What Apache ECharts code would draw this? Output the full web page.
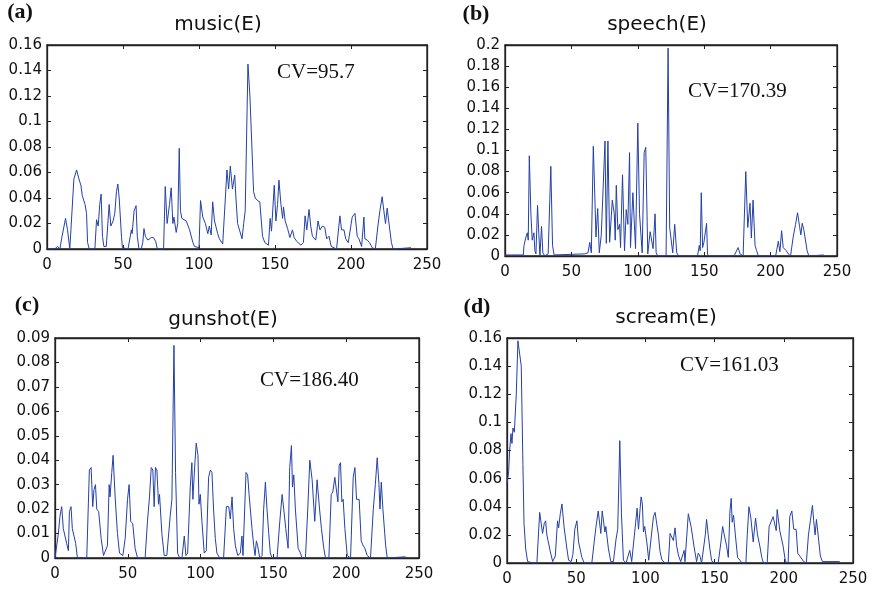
<!DOCTYPE html>
<html>
<head>
<meta charset="utf-8">
<script src="https://cdn.jsdelivr.net/npm/echarts@6/dist/echarts.min.js"></script>
<style>html,body{margin:0;padding:0;background:#fff}#c{width:880px;height:592px}</style>
</head>
<body>
<div id="c"></div>
<script>
// ---- data (frame index, energy) ----
const panelTitles = ['music(E)', 'speech(E)', 'gunshot(E)', 'scream(E)'];
const panelLetters = ['(a)', '(b)', '(c)', '(d)'];
const cvLabels = ['CV=95.7', 'CV=170.39', 'CV=186.40', 'CV=161.03'];
const xTicks = [0, 50, 100, 150, 200, 250];
const yMax = [0.16, 0.2, 0.09, 0.16];
const yStep = [0.02, 0.02, 0.01, 0.02];

const music = [[0,0],[5,0],[7,0.002],[8.5,0],[9.6,0.008],[10.7,0.008],[12.2,0.024],[13.5,0.015],[15,0],[16,0],[17.7,0.055],[19.5,0.062],[21,0.055],[22.3,0.05],[23.2,0.042],[25,0.035],[26,0.028],[26.7,0.005],[27.8,0],[31.5,0],[32.6,0.023],[33.7,0.018],[34.7,0.035],[35.6,0.043],[36.5,0.01],[37.4,0.002],[39,0.002],[40.9,0.035],[42,0.018],[43.5,0.022],[44.6,0.028],[45.7,0.045],[46.6,0.051],[47.5,0.04],[49,0.01],[49.6,0.001],[53.3,0],[55.5,0.015],[56,0.012],[57.3,0.03],[58.6,0.034],[59.4,0.01],[60.5,0],[62,0],[63,0.005],[63.8,0.016],[64.7,0.01],[66.4,0.007],[68.6,0.009],[70,0.009],[71.5,0.006],[72.6,0],[76.7,0],[77.8,0.049],[79,0.02],[80.6,0.035],[81.7,0.048],[82.8,0.02],[83.5,0.025],[85,0.013],[86,0.02],[87,0.079],[87.8,0.03],[88.7,0.024],[91.6,0.022],[93.8,0.015],[96,0.005],[97,0.002],[100,0.001],[101,0.038],[102.5,0.025],[104.2,0.02],[105.8,0.012],[106.8,0.018],[108,0.011],[109,0.037],[110.2,0.022],[112.3,0.012],[113.4,0.008],[115.6,0.004],[116.7,0.005],[118.4,0.062],[119.5,0.047],[120.6,0.065],[122,0.047],[123.5,0.058],[124.3,0.04],[125.4,0.02],[126.5,0.02],[128.3,0.008],[129.4,0.02],[130.4,0.03],[132.2,0.145],[133.5,0.12],[134.8,0.08],[135.9,0.045],[137,0.04],[138.5,0.038],[140,0.037],[141.8,0.01],[143.3,0.005],[145.7,0.003],[146.8,0.024],[147.7,0.014],[149.5,0.05],[150.6,0.022],[151.7,0.035],[152.6,0.054],[153.9,0.035],[155,0.024],[155.6,0.033],[156.7,0.022],[158.3,0.016],[159.8,0.009],[161.5,0.015],[162.6,0.009],[164.3,0.006],[165.4,0.007],[167,0.003],[168.7,0.005],[169.8,0.026],[170.9,0.015],[172.4,0.031],[173.5,0.018],[174.6,0.01],[176.8,0.007],[178.3,0.022],[179.6,0.015],[181.2,0.018],[182.7,0.017],[184,0.008],[185.5,0.01],[187,0.002],[190.5,0],[192.7,0.026],[193.8,0.015],[195.4,0.015],[196.5,0.008],[198.2,0.005],[199,0.004],[200.8,0.025],[202.6,0.028],[204.1,0.01],[205.2,0.008],[207,0.002],[208.5,0.025],[209.1,0.008],[210.7,0.007],[212.2,0.005],[214,0.001],[216,0],[217.7,0.018],[219,0.03],[220.5,0.041],[221.6,0.03],[222.7,0.02],[223.8,0.032],[224.8,0.022],[226.6,0.005],[227.7,0],[239.5,0.001]];

const speech = [[0,0.001],[5,0.001],[13.8,0.001],[14.3,0.01],[15.8,0.018],[16.8,0.022],[17.5,0.015],[18.3,0.095],[19.5,0.04],[20.5,0.015],[21.8,0.022],[22.5,0.005],[23.3,0.002],[24.5,0.048],[25.5,0.02],[26.3,0],[27.5,0.028],[28.5,0.003],[30,0],[32.5,0.002],[34.5,0.085],[35.8,0.01],[37,0.001],[60,0.002],[62.5,0.003],[63.8,0.013],[65,0.003],[66.5,0.104],[67.8,0.05],[68.5,0.018],[69.8,0.045],[71,0.003],[72.5,0.02],[75.3,0.109],[76.3,0.012],[77.5,0.109],[78.8,0.013],[80.8,0.053],[82.3,0.04],[83,0.015],[83.8,0.067],[85,0.025],[86.3,0.03],[87,0.008],[88.5,0.077],[90,0.005],[91.3,0.044],[92.5,0.03],[93.8,0.098],[94.5,0.008],[96.3,0.06],[97,0.06],[98.3,0.007],[100,0.126],[101.3,0.04],[102.3,0.041],[103.3,0.003],[104.8,0.098],[106,0.103],[107.5,0.002],[109.3,0.023],[110.5,0.024],[111.5,0.007],[113,0.04],[113.8,0.003],[115,0],[121.3,0],[122.8,0.197],[124,0.027],[125.3,0.028],[126.3,0.003],[127.8,0.03],[129.3,0.003],[130.8,0],[145,0],[146.3,0.01],[147,0.005],[147.8,0.06],[148.8,0.008],[149.8,0.013],[150.5,0.012],[151.8,0.031],[152.5,0.002],[153.3,0],[172.5,0],[175.5,0.008],[177,0.002],[179.3,0],[181.3,0.08],[182.8,0.027],[184.5,0.05],[185.5,0.017],[186.8,0.053],[188.3,0.01],[189.5,0.005],[190.8,0],[203.8,0],[205.8,0.014],[207,0.004],[208.3,0.024],[209.5,0.008],[211.8,0.005],[213.3,0.002],[215,0],[217,0.018],[218.8,0.03],[220.3,0.041],[221.8,0.028],[222.8,0.02],[223.8,0.031],[225,0.025],[227.5,0.005],[228.8,0],[240,0.001]];

const gunshot = [[0,0],[1.1,0],[2.3,0.01],[3.4,0.017],[4.6,0.021],[5.7,0.012],[6.9,0.012],[8,0.006],[9.2,0.003],[9.9,0.019],[11,0.021],[11.9,0.012],[13.1,0.012],[14.2,0.006],[15.4,0],[21.8,0],[23.6,0.036],[24.8,0.037],[25.9,0.021],[26.8,0.028],[27.8,0.03],[28.7,0.02],[30,0.019],[31.7,0.008],[33.3,0.001],[34.6,0.001],[36,0.005],[37.2,0.03],[37.8,0.025],[39,0.035],[39.9,0.042],[41.3,0.025],[42.9,0.01],[44.3,0.002],[46.6,0.001],[48.2,0.008],[49.8,0.024],[50.9,0.03],[52,0.015],[53.4,0.014],[55,0.004],[56.7,0],[61.9,0],[63.5,0.015],[64.9,0.025],[66.1,0.037],[67.2,0.036],[68.1,0.021],[69,0.037],[70,0.036],[71.1,0.022],[71.8,0.026],[73.4,0.01],[75,0.001],[76.8,0.001],[79.1,0.017],[80.3,0.024],[81.7,0.087],[82.8,0.035],[84.2,0.002],[85.6,0],[87.2,0],[88.8,0.009],[89.9,0.001],[91.1,0.002],[92.9,0.029],[94,0.039],[94.7,0.024],[96.1,0.039],[97,0.047],[98.2,0.042],[98.9,0.022],[99.8,0.026],[100.9,0.015],[102.5,0.002],[103.9,0.003],[105.5,0.033],[106.7,0.036],[107.8,0.035],[108.9,0.02],[110.1,0.008],[111.2,0.002],[113.1,0],[115.8,0],[117.7,0.021],[119.3,0.021],[120.4,0.016],[121.6,0.025],[122.7,0.012],[123.9,0.005],[125.5,0.001],[127.3,0.002],[128.4,0.009],[129.1,0.001],[131.2,0.035],[132.3,0.034],[133.3,0.026],[134.2,0.026],[135.3,0.012],[136.5,0.005],[137.4,0.001],[138.3,0.007],[139.2,0.005],[140.6,0],[142.2,0.001],[143.3,0.02],[144.5,0.031],[145.6,0.02],[146.8,0.01],[147.9,0.002],[149.1,0],[152.5,0],[154.4,0.015],[156,0.026],[157.1,0.02],[158.5,0.012],[160.1,0.004],[161.2,0.037],[162.4,0.046],[163.1,0.029],[164,0.034],[165.1,0.02],[167,0.004],[168.6,0.002],[169.7,0],[172,0],[173.6,0.02],[175,0.04],[176.6,0.032],[178.4,0.015],[180,0.032],[181.7,0.02],[183,0.012],[184.6,0.004],[185.8,0],[188.1,0],[189.7,0.026],[190.8,0.027],[192.2,0.033],[193.3,0.033],[194.3,0.023],[195.2,0.038],[196.1,0.039],[197,0.023],[197.9,0.024],[199.1,0.012],[200.7,0.001],[203,0],[204.8,0.033],[206,0.037],[207.1,0.024],[208.9,0.024],[210.3,0.007],[211.7,0.005],[212.8,0.004],[214.4,0.001],[216.7,0],[218.6,0.02],[220,0.03],[221.3,0.041],[222.5,0.03],[223.2,0.02],[224.1,0.031],[225.2,0.02],[227.1,0.005],[228.2,0],[240.8,0.0005]];

const scream = [[0,0.056],[1.2,0.065],[1.9,0.08],[2.9,0.092],[3.6,0.085],[4.3,0.096],[5.3,0.093],[6.7,0.12],[7.9,0.158],[9.1,0.158],[10.3,0.14],[11.5,0.07],[12.3,0.028],[13.5,0.01],[14.9,0.001],[19.2,0],[21.6,0],[23.6,0.036],[24.8,0.037],[25.7,0.021],[26.9,0.028],[27.9,0.03],[28.8,0.02],[30,0.019],[31.3,0.008],[33,0.001],[34.9,0.005],[36.5,0.03],[37.3,0.025],[38.5,0.035],[39.7,0.042],[41.3,0.025],[43.3,0.01],[44.5,0.002],[46.4,0.001],[47.6,0.006],[49,0.024],[50.5,0.03],[51.7,0.015],[52.9,0.014],[54.1,0.004],[55.8,0],[61.3,0],[63,0.015],[64.2,0.025],[65.9,0.037],[66.8,0.036],[67.8,0.021],[68.8,0.037],[69.7,0.036],[70.7,0.022],[71.4,0.026],[73.3,0.01],[75,0.001],[76.9,0.001],[78.8,0.017],[80,0.024],[81.5,0.087],[82.7,0.035],[84.1,0.002],[86,0],[87.3,0],[88.7,0.009],[90.1,0.001],[91.3,0.002],[93,0.029],[94,0.039],[95,0.024],[96.2,0.039],[96.9,0.047],[97.8,0.042],[98.6,0.022],[99.5,0.026],[101,0.015],[102.4,0.002],[103.8,0.003],[105.8,0.033],[107,0.036],[108.2,0.035],[109.4,0.02],[110.6,0.008],[112,0.002],[114.2,0],[116.6,0],[117.8,0.021],[119.2,0.021],[120.2,0.016],[121.4,0.025],[122.6,0.012],[124,0.005],[125.5,0.001],[126.9,0.002],[128,0.009],[128.6,0.001],[131,0.035],[132.2,0.034],[133,0.026],[134,0.026],[135.1,0.012],[136.3,0.005],[137,0.001],[138.2,0.007],[139.4,0.005],[140.6,0],[141.8,0.001],[143.3,0.02],[144.2,0.031],[145.4,0.02],[146.6,0.01],[147.8,0.002],[149,0],[152.6,0],[154.6,0.015],[155.8,0.026],[157,0.02],[158.7,0.012],[159.9,0.004],[161.1,0.037],[162,0.046],[162.7,0.029],[163.7,0.034],[165,0.02],[166.6,0.004],[168.3,0.002],[169.7,0],[172.6,0],[173.6,0.02],[174.8,0.04],[176.2,0.032],[177.9,0.015],[179.6,0.032],[181,0.02],[182.7,0.012],[184.1,0.004],[185.3,0],[188,0],[189.4,0.026],[190.6,0.027],[192.3,0.033],[193.5,0.033],[194.5,0.023],[195.2,0.038],[196.2,0.039],[197.1,0.023],[198.1,0.024],[199.5,0.012],[201.2,0.001],[203.1,0],[204.3,0.033],[205.8,0.037],[207.2,0.024],[208.9,0.024],[210.1,0.007],[211.5,0.005],[212.7,0.004],[214.4,0.001],[216.3,0],[217.8,0.02],[219.2,0.03],[220.7,0.041],[221.6,0.03],[222.6,0.02],[223.6,0.031],[224.8,0.02],[226.4,0.005],[227.9,0.001],[240.4,0.001]];

const seriesData = [music, speech, gunshot, scream];

// ---- layout ----
const grids = [
  {left: 47, top: 45, width: 380, height: 204},
  {left: 505, top: 45, width: 332, height: 211},
  {left: 55, top: 338, width: 364, height: 220},
  {left: 507, top: 338, width: 346, height: 225}
];
const titlePos = [[218, 25], [657, 25], [223, 320], [666, 318]];
const letterPos = [[20, 12], [476, 14], [27, 305], [477, 307]];
const cvPos = [[277, 72], [688, 91], [260, 380], [680, 365]];

const axisColor = '#222';
const lineColor = '#2440a8';
const tickFont = {fontFamily: 'DejaVu Sans', fontSize: 15, color: '#111'};

const xAxes = [], yAxes = [], series = [], graphic = [];
grids.forEach((g, i) => {
  const mk = (extra) => Object.assign({
    type: 'value', gridIndex: i, min: 0, max: 250, interval: 50,
    axisLine: {show: true, onZero: false, lineStyle: {color: axisColor, width: 1.3}},
    axisTick: {show: true, inside: true, length: 4, lineStyle: {color: axisColor}},
    splitLine: {show: false}
  }, extra);
  xAxes.push(mk({position: 'bottom', axisLabel: Object.assign({show: true, margin: 9}, tickFont)}));
  xAxes.push(mk({position: 'top', axisLabel: {show: false}}));
  const mky = (extra) => Object.assign({
    type: 'value', gridIndex: i, min: 0, max: yMax[i], interval: yStep[i],
    axisLine: {show: true, onZero: false, lineStyle: {color: axisColor, width: 1.3}},
    axisTick: {show: true, inside: true, length: 4, lineStyle: {color: axisColor}},
    splitLine: {show: false}
  }, extra);
  yAxes.push(mky({position: 'left',
    axisLabel: Object.assign({show: true, margin: 5, formatter: v => String(+v.toFixed(4))}, tickFont)}));
  yAxes.push(mky({position: 'right', axisLabel: {show: false}}));
  series.push({
    type: 'line', xAxisIndex: 2 * i, yAxisIndex: 2 * i,
    data: seriesData[i], showSymbol: false, symbol: 'none',
    lineStyle: {color: lineColor, width: 1}, animation: false, silent: true
  });
  // empty series bound to the mirrored axes so they get drawn
  series.push({
    type: 'line', xAxisIndex: 2 * i + 1, yAxisIndex: 2 * i + 1,
    data: [], symbol: 'none', silent: true
  });
  graphic.push({type: 'text', style: {
    text: panelTitles[i], x: titlePos[i][0], y: titlePos[i][1],
    textAlign: 'center', textVerticalAlign: 'middle',
    font: '20px "DejaVu Sans"', fill: '#111'}});
  graphic.push({type: 'text', style: {
    text: panelLetters[i], x: letterPos[i][0], y: letterPos[i][1],
    textAlign: 'center', textVerticalAlign: 'middle',
    font: 'bold 22px "Liberation Serif"', fill: '#111'}});
  graphic.push({type: 'text', style: {
    text: cvLabels[i], x: cvPos[i][0], y: cvPos[i][1],
    textAlign: 'left', textVerticalAlign: 'middle',
    font: '21px "Liberation Serif"', fill: '#111'}});
});

const chart = echarts.init(document.getElementById('c'), null, {renderer: 'canvas'});
chart.setOption({
  animation: false,
  backgroundColor: '#fff',
  grid: grids.map(g => Object.assign({show: true, borderColor: axisColor, borderWidth: 1.3, backgroundColor: 'transparent', containLabel: false}, g)),
  xAxis: xAxes,
  yAxis: yAxes,
  series: series,
  graphic: graphic
});
</script>
</body>
</html>
